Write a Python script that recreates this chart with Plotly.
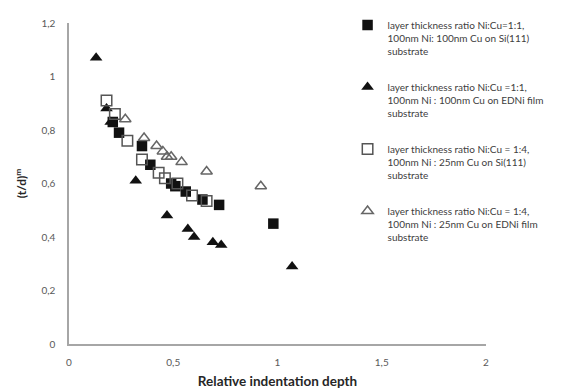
import plotly.graph_objects as go

# Data
sq_filled_x = [0.21, 0.24, 0.35, 0.39, 0.49, 0.51, 0.56, 0.64, 0.72, 0.98]
sq_filled_y = [0.83, 0.79, 0.74, 0.67, 0.60, 0.59, 0.57, 0.54, 0.52, 0.45]
tri_filled_x = [0.13, 0.18, 0.20, 0.32, 0.47, 0.57, 0.60, 0.69, 0.73, 1.07]
tri_filled_y = [1.07, 0.88, 0.83, 0.61, 0.48, 0.43, 0.40, 0.38, 0.37, 0.29]
sq_open_x = [0.18, 0.22, 0.28, 0.35, 0.43, 0.46, 0.52, 0.59, 0.66]
sq_open_y = [0.91, 0.86, 0.76, 0.69, 0.64, 0.62, 0.60, 0.555, 0.535]
tri_open_x = [0.27, 0.36, 0.42, 0.45, 0.47, 0.49, 0.54, 0.66, 0.92]
tri_open_y = [0.84, 0.77, 0.74, 0.72, 0.70, 0.70, 0.68, 0.645, 0.59]

series_names = [
    "layer thickness ratio Ni:Cu=1:1,<br>100nm Ni: 100nm Cu on Si(111)<br>substrate",
    "layer thickness ratio Ni:Cu =1:1,<br>100nm Ni : 100nm Cu on EDNi film<br>substrate",
    "layer thickness ratio Ni:Cu = 1:4,<br>100nm Ni : 25nm Cu on Si(111)<br>substrate",
    "layer thickness ratio Ni:Cu = 1:4,<br>100nm Ni : 25nm Cu on EDNi film<br>substrate",
]

x_tickvals = [0, 0.5, 1, 1.5, 2]
x_ticktext = ["0", "0,5", "1", "1,5", "2"]
y_tickvals = [0, 0.2, 0.4, 0.6, 0.8, 1.0, 1.2]
y_ticktext = ["0", "0,2", "0,4", "0,6", "0,8", "1", "1,2"]

FONT = "Lato, 'Open Sans', sans-serif"

fig = go.Figure()
fig.add_trace(go.Scatter(x=sq_filled_x, y=sq_filled_y, mode="markers", name=series_names[0],
                         legendgroup="a",
                         marker=dict(symbol="square", size=10.5, color="#111111")))
fig.add_trace(go.Scatter(x=tri_filled_x, y=tri_filled_y, mode="markers", name=series_names[1],
                         legendgroup="b",
                         marker=dict(symbol="triangle-up", size=11, color="#111111")))
fig.add_trace(go.Scatter(x=sq_open_x, y=sq_open_y, mode="markers", name=series_names[2],
                         legendgroup="c",
                         marker=dict(symbol="square-open", size=10.5, color="#555555",
                                     line=dict(width=1.5))))
fig.add_trace(go.Scatter(x=tri_open_x, y=tri_open_y, mode="markers", name=series_names[3],
                         legendgroup="d",
                         marker=dict(symbol="triangle-up-open", size=10, color="#666666",
                                     line=dict(width=1.5))))

fig.update_layout(
    width=587, height=390,
    margin=dict(l=69, r=101, t=23, b=46),
    paper_bgcolor="white", plot_bgcolor="white",
    font=dict(family=FONT, size=10, color="#595959"),
    showlegend=True,
    legend=dict(x=0.668, xanchor="left", y=1.034, yanchor="top",
                font=dict(family=FONT, size=10, color="#404040"),
                tracegroupgap=20, valign="top", bgcolor="rgba(0,0,0,0)",
                itemwidth=30, maxheight=370),
    xaxis=dict(range=[0, 2], tickvals=x_tickvals, ticktext=x_ticktext,
               showline=True, linecolor="#a6a6a6", linewidth=2, showgrid=False,
               zeroline=False, ticks="", tickfont=dict(size=10, color="#595959"),
               ticklabelstandoff=8, automargin=False,
               title=dict(text="<b>Relative indentation depth</b>",
                          font=dict(family=FONT, size=13.5, color="#262626"), standoff=10)),
    yaxis=dict(range=[0, 1.2], tickvals=y_tickvals, ticktext=y_ticktext,
               showline=True, linecolor="#a6a6a6", linewidth=1.5, showgrid=False,
               zeroline=False, ticks="", tickfont=dict(size=10, color="#595959"),
               ticklabelstandoff=10, automargin=False,
               title=dict(text="<b>(t/d)<sup>m</sup></b>",
                          font=dict(family=FONT, size=12, color="#262626"), standoff=12)),
)

fig.write_html("out.html")
